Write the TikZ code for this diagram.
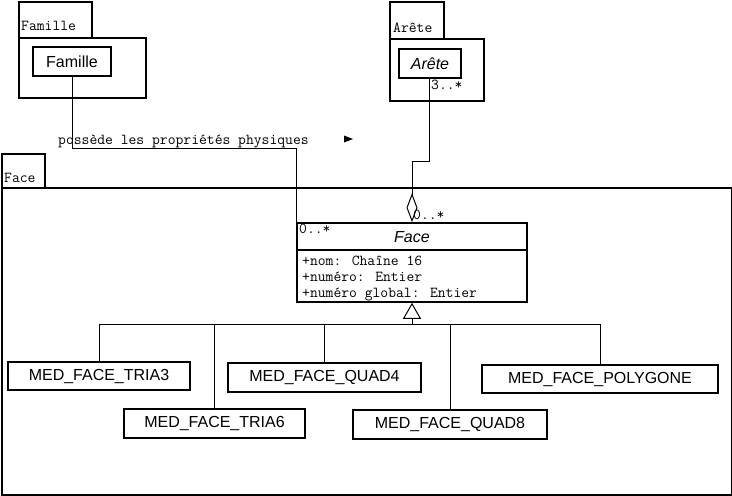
\documentclass[tikz,border=0pt]{standalone}
\usepackage{fontspec}
\setmainfont{Liberation Sans}
\usetikzlibrary{arrows.meta}
\begin{document}
\begin{tikzpicture}[x=1pt,y=-1pt,
  pkg/.style={draw,line width=1.6pt,rectangle,inner sep=0pt,anchor=north west},
  box/.style={draw,line width=1.6pt,rectangle,inner sep=0pt,fill=white,
    font=\fontsize{16}{19}\selectfont},
  lbl/.style={inner sep=0pt,anchor=base west,font=\ttfamily\fontsize{15.2}{18}\selectfont},
  conn/.style={line width=1pt}]
\useasboundingbox (0,0) rectangle (732,496);
% packages
\node[pkg,minimum width=73pt,minimum height=36pt] (famtab) at (18,1) {};
\node[pkg,minimum width=127pt,minimum height=60pt] (fampkg) at (18,37) {};
\node[lbl] (famtabl) at (21,30) {Famille};
\node[pkg,minimum width=54pt,minimum height=37pt] (aretab) at (389,1) {};
\node[pkg,minimum width=94pt,minimum height=62pt] (arepkg) at (389,38) {};
\node[lbl] (aretabl) at (393,32) {Arête};
\node[pkg,minimum width=43pt,minimum height=34pt] (facetab) at (1,153) {};
\node[pkg,minimum width=730pt,minimum height=307pt] (facepkg) at (1,187) {};
\node[lbl] (facetabl) at (4,182) {Face};
% classes
\node[box,minimum width=78pt,minimum height=29pt] (fam) at (72,61.5) {Famille};
\node[box,minimum width=62pt,minimum height=29pt] (are) at (430,63.5) {\itshape Arête};
\node[box,minimum width=230pt,minimum height=79pt] (face) at (412,262.5) {};
\draw[line width=1.2pt] (297,250) -- (527,250);
\node[inner sep=0pt,font=\fontsize{16}{19}\selectfont] (facename) at (412,237) {\itshape Face};
\node[lbl] (a1) at (302,265) {+nom: Chaîne 16};
\node[lbl] (a2) at (302,281) {+numéro: Entier};
\node[lbl] (a3) at (302,297) {+numéro global: Entier};
\node[box,minimum width=182pt,minimum height=28pt] (tria3) at (99,376) {MED\_FACE\_TRIA3};
\node[box,minimum width=181pt,minimum height=29pt] (tria6) at (214.5,423.5) {MED\_FACE\_TRIA6};
\node[box,minimum width=193pt,minimum height=29pt] (quad4) at (324.5,377.5) {MED\_FACE\_QUAD4};
\node[box,minimum width=194pt,minimum height=29pt] (quad8) at (450,424.5) {MED\_FACE\_QUAD8};
\node[box,minimum width=236pt,minimum height=28pt] (poly) at (600,379) {MED\_FACE\_POLYGONE};
% association Famille - Face
\draw[conn] (fam.south) -- ++(0,72) -| (face.north west);
\node[lbl] (assoc) at (58,144) {possède les propriétés physiques};
\fill (344,135.5) -- (353,139) -- (344,142.5) -- cycle;
\node[lbl] (m1) at (299,233) {0..*};
% aggregation Arete - Face
\coordinate (bend) at (429,161);
\draw[conn,{Diamond[open,length=29pt,width=11pt,line width=1pt]}-] (face.north) -- (412,161) -- (bend) -- (are.south -| bend);
\node[lbl] (m2) at (431,89) {3..*};
\node[lbl] (m3) at (413,219) {0..*};
% generalization
\coordinate (hub) at (412,324);
\draw[conn,-{Triangle[open,length=16pt,width=18pt,line width=1pt]}] (hub) -- (face.south);
\draw[conn] (tria3.north) |- (hub);
\draw[conn] (tria6.north) |- (hub);
\draw[conn] (quad4.north) |- (hub);
\draw[conn] (quad8.north) |- (hub);
\draw[conn] (poly.north) |- (hub);
\end{tikzpicture}
\end{document}
